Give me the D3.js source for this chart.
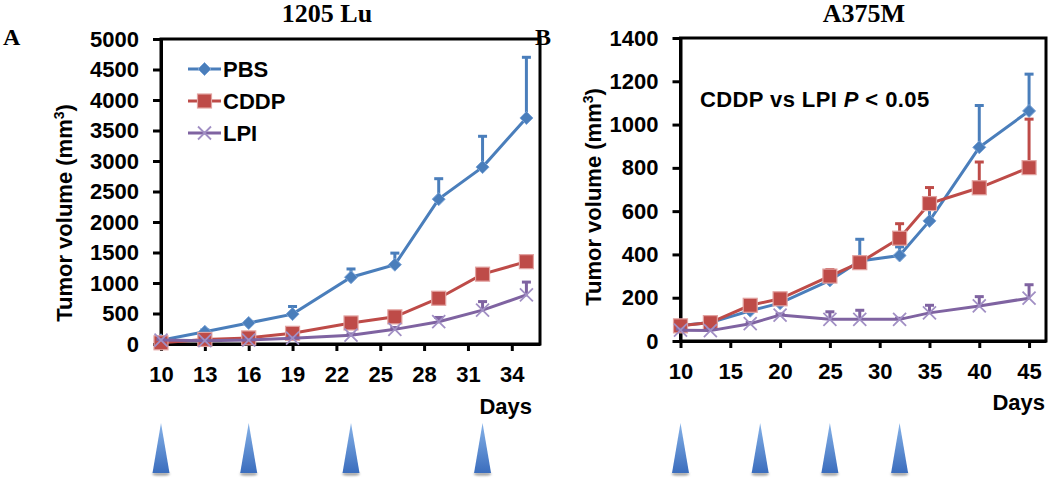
<!DOCTYPE html>
<html><head><meta charset="utf-8">
<script src="https://cdn.jsdelivr.net/npm/d3@7"></script>
<style>body{margin:0;background:#fff}</style>
</head><body>
<svg id="c" width="1050" height="480"></svg>
<script>
// ---------- data ----------
const seriesNames = ["PBS", "CDDP", "LPI"];

// Panel A: 1205 Lu
const daysA = [10, 13, 16, 19, 23, 26, 29, 32, 35];
const pbsA = [60, 200, 345, 490, 1095, 1300, 2375, 2900, 3705];
const pbsErrA = [0, 30, 20, 125, 135, 190, 335, 505, 995];
const cddpA = [20, 75, 100, 175, 345, 445, 750, 1145, 1350];
const cddpErrA = [10, 15, 20, 30, 40, 60, 80, 90, 80];
const lpiA = [65, 55, 65, 95, 145, 240, 365, 555, 805];
const lpiErrA = [10, 10, 10, 15, 20, 30, 70, 140, 210];
const xTicksA = [10, 13, 16, 19, 22, 25, 28, 31, 34];
const yTicksA = [0, 500, 1000, 1500, 2000, 2500, 3000, 3500, 4000, 4500, 5000];
const treatA = [10, 16, 23, 32];

// Panel B: A375M
const daysB = [10, 13, 17, 20, 25, 28, 32, 35, 40, 45];
const pbsB = [72, 85, 140, 175, 280, 370, 395, 555, 895, 1063];
const pbsErrB = [5, 10, 10, 10, 20, 100, 40, 60, 193, 170];
const cddpB = [70, 85, 165, 195, 300, 362, 475, 635, 708, 801];
const cddpErrB = [10, 10, 10, 10, 30, 15, 67, 74, 119, 224];
const lpiB = [50, 48, 80, 120, 100, 100, 100, 130, 162, 198];
const lpiErrB = [5, 5, 5, 5, 35, 42, 5, 35, 43, 62];
const xTicksB = [10, 15, 20, 25, 30, 35, 40, 45];
const yTicksB = [0, 200, 400, 600, 800, 1000, 1200, 1400];
const treatB = [10, 18, 25, 32];

// ---------- style ----------
const colors = {PBS: "#4a7ebb", CDDP: "#be4b48", LPI: "#7f63a1"};
const SANS = "'Liberation Sans', Arial, sans-serif";
const SERIF = "'Liberation Serif', 'Times New Roman', serif";

const svg = d3.select("#c");
const defs = svg.append("defs");
const grad = defs.append("linearGradient").attr("id", "tri").attr("x1", 0).attr("y1", 0).attr("x2", 0).attr("y2", 1);
grad.append("stop").attr("offset", "0%").attr("stop-color", "#86b2e8");
grad.append("stop").attr("offset", "100%").attr("stop-color", "#3b6dbd");
const blur = defs.append("filter").attr("id", "sh").attr("x", "-50%").attr("y", "-50%").attr("width", "200%").attr("height", "200%");
blur.append("feGaussianBlur").attr("stdDeviation", 1.2);

function marker(g, name, cx, cy) {
  const c = colors[name];
  if (name === "PBS") {
    g.append("path").attr("d", `M${cx},${cy-6.5}L${cx+6.5},${cy}L${cx},${cy+6.5}L${cx-6.5},${cy}Z`)
      .attr("fill", c).attr("stroke", "#7aa3d6").attr("stroke-width", 1);
  } else if (name === "CDDP") {
    g.append("rect").attr("x", cx-7).attr("y", cy-7).attr("width", 14).attr("height", 14)
      .attr("fill", c).attr("stroke", "#e2a3a1").attr("stroke-width", 1.2);
  } else {
    g.append("path").attr("d", `M${cx-6.5},${cy-6.5}L${cx+6.5},${cy+6.5}M${cx+6.5},${cy-6.5}L${cx-6.5},${cy+6.5}`)
      .attr("stroke", "#a18fc4").attr("stroke-width", 1.8).attr("fill", "none");
  }
}

function panel(cfg) {
  const g = svg.append("g");
  const x = d3.scaleLinear().domain(cfg.xDomain).range([cfg.left, cfg.right]);
  const y = d3.scaleLinear().domain(cfg.yDomain).range([cfg.bottom, cfg.top]);

  // frame
  g.append("rect").attr("x", cfg.left).attr("y", cfg.top)
    .attr("width", cfg.right - cfg.left).attr("height", cfg.bottom - cfg.top)
    .attr("fill", "none").attr("stroke", "#000").attr("stroke-width", 3);

  // axes
  const ya = g.append("g").attr("transform", `translate(${cfg.left},0)`)
    .call(d3.axisLeft(y).tickValues(cfg.yTicks).tickSize(8).tickSizeOuter(0).tickPadding(14).tickFormat(d3.format("d")));
  const xa = g.append("g").attr("transform", `translate(0,${cfg.bottom})`)
    .call(d3.axisBottom(x).tickValues(cfg.xTicks).tickSize(7).tickSizeOuter(0).tickPadding(15).tickFormat(d3.format("d")));
  [ya, xa].forEach(a => {
    a.select(".domain").attr("stroke", "#000").attr("stroke-width", 3);
    a.selectAll(".tick line").attr("stroke", "#000").attr("stroke-width", 3);
    a.selectAll(".tick text").attr("fill", "#000").attr("font-family", SANS)
      .attr("font-weight", "bold").attr("font-size", 22);
  });

  // series
  cfg.series.forEach(s => {
    const c = colors[s.name];
    const pts = cfg.days.map((d, i) => ({d, v: s.values[i], e: s.err[i]}));
    const eg = g.append("g");
    pts.forEach(p => {
      if (p.e <= 0) return;
      eg.append("line").attr("x1", x(p.d)).attr("x2", x(p.d)).attr("y1", y(p.v)).attr("y2", y(p.v + p.e))
        .attr("stroke", c).attr("stroke-width", 3);
      eg.append("line").attr("x1", x(p.d) - 4.5).attr("x2", x(p.d) + 4.5).attr("y1", y(p.v + p.e)).attr("y2", y(p.v + p.e))
        .attr("stroke", c).attr("stroke-width", 3);
    });
    g.append("path").datum(pts)
      .attr("d", d3.line().x(p => x(p.d)).y(p => y(p.v)))
      .attr("fill", "none").attr("stroke", c).attr("stroke-width", 3);
    const mg = g.append("g");
    pts.forEach(p => marker(mg, s.name, x(p.d), y(p.v)));
  });

  // titles / labels
  g.append("text").attr("x", cfg.titleX).attr("y", 22).attr("text-anchor", "middle")
    .attr("font-family", SERIF).attr("font-weight", "bold").attr("font-size", 26).text(cfg.title);
  g.append("text").attr("x", cfg.letterX).attr("y", 45)
    .attr("font-family", SERIF).attr("font-weight", "bold").attr("font-size", 24).text(cfg.letter);
  const yl = g.append("text").attr("transform", `translate(${cfg.ylabX},${cfg.ylabY}) rotate(-90)`)
    .attr("text-anchor", "middle").attr("font-family", SANS).attr("font-weight", "bold").attr("font-size", 22);
  yl.append("tspan").text("Tumor volume (mm");
  yl.append("tspan").attr("font-size", 14).attr("dy", -8).text("3");
  yl.append("tspan").attr("dy", 8).text(")");
  g.append("text").attr("x", cfg.daysX).attr("y", cfg.daysY).attr("text-anchor", "end")
    .attr("font-family", SANS).attr("font-weight", "bold").attr("font-size", 22).text("Days");

  // treatment arrows
  cfg.treat.forEach(d => {
    const cx = x(d);
    g.append("ellipse").attr("cx", cx).attr("cy", 474).attr("rx", 9).attr("ry", 1.6)
      .attr("fill", "#999").attr("filter", "url(#sh)");
    g.append("path").attr("d", `M${cx},423L${cx+8.5},473L${cx-8.5},473Z`).attr("fill", "url(#tri)");
  });
  return {g, x, y};
}

const A = panel({
  left: 161, right: 540, top: 39, bottom: 344,
  xDomain: [10, 35.93], yDomain: [0, 5000],
  xTicks: xTicksA, yTicks: yTicksA, days: daysA, treat: treatA,
  series: [
    {name: "PBS", values: pbsA, err: pbsErrA},
    {name: "CDDP", values: cddpA, err: cddpErrA},
    {name: "LPI", values: lpiA, err: lpiErrA}
  ],
  title: "1205 Lu", titleX: 327, letter: "A", letterX: 3,
  ylabX: 72, ylabY: 213, daysX: 532, daysY: 414
});

const B = panel({
  left: 680.5, right: 1046, top: 38, bottom: 341,
  xDomain: [10, 46.7], yDomain: [0, 1400],
  xTicks: xTicksB, yTicks: yTicksB, days: daysB, treat: treatB,
  series: [
    {name: "PBS", values: pbsB, err: pbsErrB},
    {name: "CDDP", values: cddpB, err: cddpErrB},
    {name: "LPI", values: lpiB, err: lpiErrB}
  ],
  title: "A375M", titleX: 864, letter: "B", letterX: 535,
  ylabX: 601, ylabY: 197, daysX: 1045, daysY: 410
});

// legend (panel A)
const lg = svg.append("g");
seriesNames.forEach((n, i) => {
  const cy = 69 + i * 32;
  lg.append("line").attr("x1", 188).attr("x2", 221).attr("y1", cy).attr("y2", cy)
    .attr("stroke", colors[n]).attr("stroke-width", 3);
  marker(lg, n, 204.5, cy);
  lg.append("text").attr("x", 223).attr("y", cy + 8).attr("font-family", SANS)
    .attr("font-weight", "bold").attr("font-size", 22).text(n);
});

// annotation (panel B)
const an = svg.append("text").attr("x", 700).attr("y", 107).attr("font-family", SANS)
  .attr("font-weight", "bold").attr("font-size", 22).attr("letter-spacing", 0.4);
an.append("tspan").text("CDDP vs LPI ");
an.append("tspan").attr("font-style", "italic").text("P");
an.append("tspan").text(" < 0.05");
</script>
</body></html>
